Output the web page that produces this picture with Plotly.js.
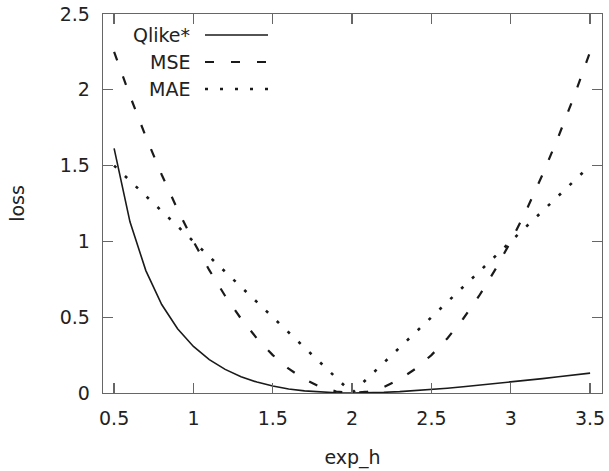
<!DOCTYPE html>
<html>
<head>
<meta charset="utf-8">
<script src="https://cdn.plot.ly/plotly-3.0.1.min.js"></script>
<style>html,body{margin:0;padding:0;background:#fff;}#chart{width:609px;height:471px;}</style>
</head>
<body>
<div id="chart"></div>
<script>
var expH = [0.5,0.6,0.7,0.8,0.9,1.0,1.1,1.2,1.3,1.4,1.5,1.6,1.7,1.8,1.9,2.0,2.1,2.2,2.3,2.4,2.5,2.6,2.7,2.8,2.9,3.0,3.1,3.2,3.3,3.4,3.5];
var qlike = [1.6137,1.1293,0.8073,0.5837,0.4237,0.3069,0.2204,0.1558,0.1077,0.0719,0.0457,0.0269,0.0140,0.0057,0.0013,0.0,0.0012,0.0044,0.0093,0.0157,0.0231,0.0316,0.0408,0.0508,0.0612,0.0721,0.0834,0.0950,0.1069,0.1189,0.1310];
var mse = [2.25,1.96,1.69,1.44,1.21,1.0,0.81,0.64,0.49,0.36,0.25,0.16,0.09,0.04,0.01,0.0,0.01,0.04,0.09,0.16,0.25,0.36,0.49,0.64,0.81,1.0,1.21,1.44,1.69,1.96,2.25];
var mae = [1.5,1.4,1.3,1.2,1.1,1.0,0.9,0.8,0.7,0.6,0.5,0.4,0.3,0.2,0.1,0.0,0.1,0.2,0.3,0.4,0.5,0.6,0.7,0.8,0.9,1.0,1.1,1.2,1.3,1.4,1.5];
var seriesNames = ["Qlike*","MSE","MAE"];
var xTicks = [0.5,1,1.5,2,2.5,3,3.5];
var xTickText = ["0.5","1","1.5","2","2.5","3","3.5"];
var yTicks = [0,0.5,1,1.5,2,2.5];
var yTickText = ["0","0.5","1","1.5","2","2.5"];

var lineColor = "#1a1a1a";
var dashes = ["solid","9px,17px","3px,12px"];
var widths = [1.6,2.2,2.6];
var ys = [qlike, mse, mae];

var traces = ys.map(function(y,i){
  return {x: expH, y: y, type: "scatter", mode: "lines", name: seriesNames[i],
    line: {color: lineColor, width: widths[i], dash: dashes[i]}, showlegend: false};
});

var W = 609, H = 471, L = 103, R = 7, T = 14, B = 78;
var pw = W - L - R, ph = H - T - B;
function px(xp){ return (xp - L) / pw; }
function py(yp){ return (H - B - yp) / ph; }

var font = {family: "DejaVu Sans, Verdana, sans-serif", size: 19, color: "#222"};
var annotations = [];
var shapes = [];
var rowY = [35, 62, 89];
seriesNames.forEach(function(n,i){
  annotations.push({xref:"paper", yref:"paper", x: px(192), y: py(rowY[i]), text: n,
    showarrow:false, xanchor:"right", yanchor:"middle", font: font});
  shapes.push({type:"line", xref:"paper", yref:"paper", x0: px(205), x1: px(268),
    y0: py(rowY[i]), y1: py(rowY[i]), line:{color: lineColor, width: widths[i], dash: dashes[i]}});
});

var layout = {
  width: W, height: H,
  margin: {l: L, r: R, t: T, b: B, pad: 0},
  paper_bgcolor: "#fff", plot_bgcolor: "#fff",
  font: font,
  showlegend: false,
  xaxis: {range: [0.43, 3.575], tickvals: xTicks, ticktext: xTickText,
    ticks: "inside", ticklen: 10, tickcolor: "#666", tickwidth: 1.3,
    showline: true, linecolor: "#666", linewidth: 1.3, mirror: "ticks",
    showgrid: false, zeroline: false, ticklabelstandoff: 8,
    title: {text: "exp_h", font: font, standoff: 22}, automargin: false},
  yaxis: {range: [0, 2.5], tickvals: yTicks, ticktext: yTickText,
    ticks: "inside", ticklen: 10, tickcolor: "#666", tickwidth: 1.3,
    showline: true, linecolor: "#666", linewidth: 1.3, mirror: "ticks",
    showgrid: false, zeroline: false, ticklabelstandoff: 8,
    title: {text: "loss", font: font, standoff: 30}, automargin: false},
  annotations: annotations,
  shapes: shapes
};

Plotly.newPlot("chart", traces, layout, {displayModeBar: false, staticPlot: true});
</script>
</body>
</html>
